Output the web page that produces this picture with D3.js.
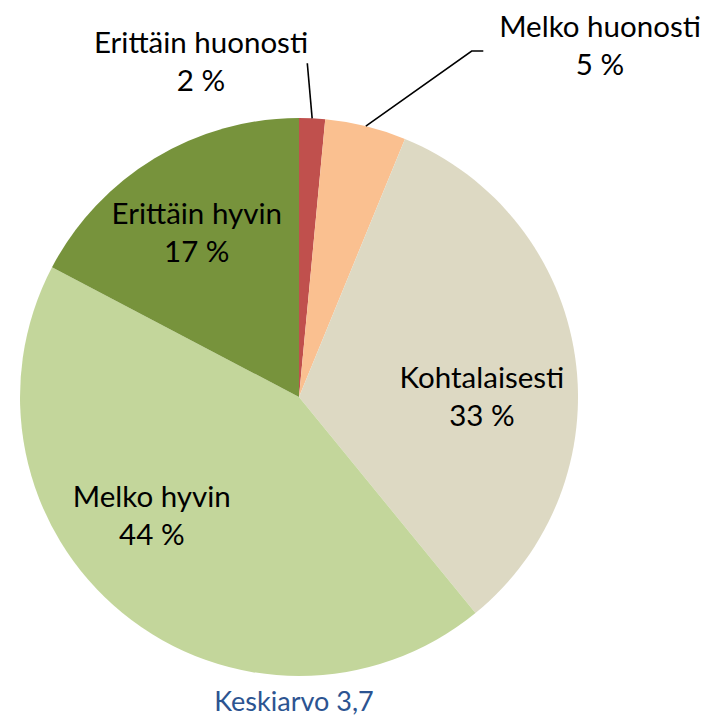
<!DOCTYPE html>
<html lang="fi">
<head>
    <meta charset="UTF-8">
    <title>Keskiarvo 3,7</title>
    <script src="https://d3js.org/d3.v7.min.js"></script>
    <style>
        body { margin: 0; background: #fff; }
        text { font-family: Lato, "Open Sans", sans-serif; }
    </style>
</head>
<body>
    <div id="chart"></div>
    <script>
        // data
        const categories = ["Erittäin huonosti", "Melko huonosti", "Kohtalaisesti", "Melko hyvin", "Erittäin hyvin"];
        const shares = [1.5, 4.7, 32.9, 43.6, 17.3];
        const shareLabels = ["2 %", "5 %", "33 %", "44 %", "17 %"];
        const sliceColors = ["#C0504D", "#FAC090", "#DDD9C3", "#C3D69B", "#77933C"];
        const footnote = "Keskiarvo 3,7";

        const width = 706, height = 716;
        const cx = 299, cy = 397, radius = 279;

        const svg = d3.select("#chart").append("svg")
            .attr("width", width)
            .attr("height", height);

        const g = svg.append("g").attr("transform", `translate(${cx},${cy})`);

        const rows = categories.map((c, i) => ({ name: c, value: shares[i], label: shareLabels[i], color: sliceColors[i] }));

        const pie = d3.pie().sort(null).value(d => d.value);
        const arcs = pie(rows);

        const arc = d3.arc().innerRadius(0).outerRadius(radius);
        const labelArc = d3.arc().innerRadius(190).outerRadius(190);
        const edgeArc = d3.arc().innerRadius(radius).outerRadius(radius);

        g.selectAll("path.slice")
            .data(arcs)
            .enter()
            .append("path")
            .attr("class", "slice")
            .attr("d", arc)
            .attr("fill", d => d.data.color);

        // label placement: inside ones nudged off the centroid, outside ones with leader lines
        const inside = {
            "Kohtalaisesti": [-5, 38],
            "Melko hyvin": [-27, -18],
            "Erittäin hyvin": [-4, 9]
        };
        const outside = {
            "Erittäin huonosti": { pos: [-98, -325.5], line: [[8.3, -333.7]] },
            "Melko huonosti": { pos: [301, -341], line: [[172.7, -346], [184.3, -346]] }
        };

        function twoLines(sel, d) {
            sel.append("text")
                .attr("text-anchor", "middle")
                .attr("y", -19)
                .attr("font-size", 29.5)
                .attr("fill", "#000")
                .text(d.data.name);
            sel.append("text")
                .attr("text-anchor", "middle")
                .attr("y", 19)
                .attr("font-size", 29.5)
                .attr("fill", "#000")
                .text(d.data.label);
        }

        arcs.forEach(d => {
            const name = d.data.name;
            if (inside[name]) {
                const c = labelArc.centroid(d);
                const n = inside[name];
                const lg = g.append("g").attr("transform", `translate(${c[0] + n[0]},${c[1] + n[1]})`);
                twoLines(lg, d);
            } else {
                const o = outside[name];
                const start = edgeArc.centroid(d);
                g.append("path")
                    .attr("d", d3.line()([start].concat(o.line)))
                    .attr("fill", "none")
                    .attr("stroke", "#000")
                    .attr("stroke-width", 1.6);
                const lg = g.append("g").attr("transform", `translate(${o.pos[0]},${o.pos[1]})`);
                twoLines(lg, d);
            }
        });

        svg.append("text")
            .attr("x", 294)
            .attr("y", 711)
            .attr("text-anchor", "middle")
            .attr("font-size", 27)
            .attr("fill", "#2C5491")
            .text(footnote);
    </script>
</body>
</html>
